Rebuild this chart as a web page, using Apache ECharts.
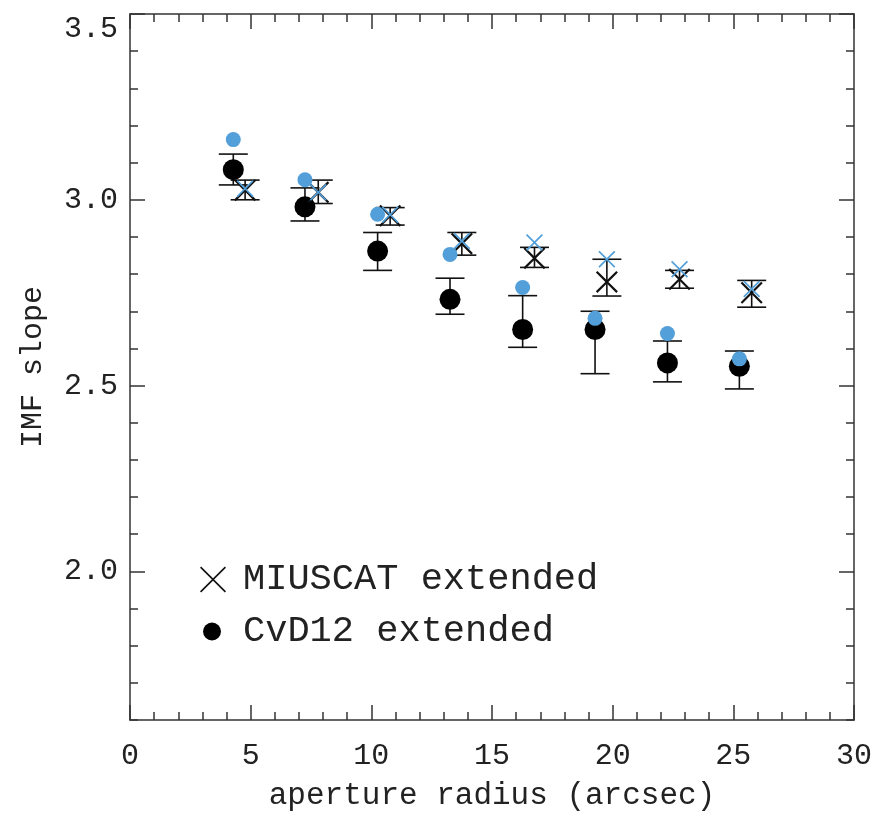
<!DOCTYPE html>
<html>
<head>
<meta charset="utf-8">
<script src="https://cdn.jsdelivr.net/npm/echarts@6/dist/echarts.min.js"></script>
<style>
html,body{margin:0;padding:0;background:#fff;}
#chart{width:876px;height:818px;}
</style>
</head>
<body>
<div id="chart"></div>
<script>
// ---- data ----
const xCvd = [4.28, 7.25, 10.26, 13.26, 16.27, 19.27, 22.27, 25.25];
const yCvd = [3.081, 2.981, 2.862, 2.732, 2.651, 2.651, 2.561, 2.552];
const cvdLow = [3.040, 2.943, 2.810, 2.692, 2.603, 2.532, 2.510, 2.491];
const cvdHigh = [3.123, 3.032, 2.912, 2.789, 2.742, 2.700, 2.620, 2.593];
const yCvdBlue = [3.162, 3.054, 2.961, 2.853, 2.764, 2.681, 2.640, 2.572];

const xMiuscat = [4.77, 7.80, 10.78, 13.75, 16.76, 19.76, 22.77, 25.76];
const yMiuscat = [3.026, 3.020, 2.957, 2.882, 2.843, 2.779, 2.786, 2.750];
const miuscatLow = [3.000, 2.990, 2.932, 2.851, 2.818, 2.741, 2.762, 2.711];
const miuscatHigh = [3.053, 3.053, 2.979, 2.912, 2.872, 2.840, 2.810, 2.783];
const yMiuscatBlue = [3.030, 3.020, 2.960, 2.889, 2.885, 2.840, 2.813, 2.760];

const yMajorTicks = [2.0, 2.5, 3.0, 3.5];
const seriesNames = ['MIUSCAT extended', 'CvD12 extended'];
const xTitle = 'aperture radius (arcsec)';
const yTitle = 'IMF slope';

// ---- styling ----
const FONT = '"Liberation Mono", "DejaVu Sans Mono", monospace';
const AX = '#333';
const BLUE = '#529fd9';
const X_PATH = 'path://M0,0.7 L0.7,0 L5,4.3 L9.3,0 L10,0.7 L5.7,5 L10,9.3 L9.3,10 L5,5.7 L0.7,10 L0,9.3 L4.3,5 Z';
const X_PATH_THIN = 'path://M0,0.45 L0.45,0 L5,4.55 L9.55,0 L10,0.45 L5.45,5 L10,9.55 L9.55,10 L5,5.45 L0.45,10 L0,9.55 L4.55,5 Z';

const zip = (a, b) => a.map((v, i) => [v, b[i]]);
const zip3 = (a, b, c) => a.map((v, i) => [v, b[i], c[i]]);

function errRender(params, api) {
  const x = api.value(0), lo = api.value(1), hi = api.value(2);
  const pLo = api.coord([x, lo]);
  const pHi = api.coord([x, hi]);
  const w = 14.5;
  const st = {stroke: '#111', lineWidth: 1.6};
  return {
    type: 'group',
    children: [
      {type: 'line', shape: {x1: pLo[0], y1: pLo[1], x2: pHi[0], y2: pHi[1]}, style: st},
      {type: 'line', shape: {x1: pLo[0] - w, y1: pLo[1], x2: pLo[0] + w, y2: pLo[1]}, style: st},
      {type: 'line', shape: {x1: pHi[0] - w, y1: pHi[1], x2: pHi[0] + w, y2: pHi[1]}, style: st}
    ]
  };
}

const tickLine = {color: AX, width: 1.5};
const GRID = {left: 130, right: 22, top: 14, bottom: 98, containLabel: false};

function xAx(pos, withLabel) {
  return {
    gridIndex: 0, type: 'value', min: 0, max: 30, interval: 5, position: pos,
    axisLine: {show: true, onZero: false, lineStyle: {color: AX, width: 1.5}},
    axisTick: {show: true, inside: true, length: 15, lineStyle: tickLine},
    minorTick: {show: true, splitNumber: 5, length: 8, lineStyle: tickLine},
    splitLine: {show: false}, minorSplitLine: {show: false},
    axisLabel: {show: withLabel, fontFamily: FONT, fontSize: 30, color: '#222', margin: 21},
    name: withLabel ? xTitle : '', nameLocation: 'middle', nameGap: 60,
    nameTextStyle: {fontFamily: FONT, fontSize: 31, color: '#222'}
  };
}
function yMinor(pos, withLabel) {
  return {
    gridIndex: 0, type: 'value', min: 1.6, max: 3.5, interval: 0.1, position: pos,
    axisLine: {show: true, onZero: false, lineStyle: {color: AX, width: 1.5}},
    axisTick: {show: true, inside: true, length: 8, lineStyle: tickLine},
    splitLine: {show: false},
    axisLabel: {
      show: withLabel, fontFamily: FONT, fontSize: 30, color: '#222', margin: 12,
      verticalAlignMaxLabel: 'top',
      formatter: function (v) {
        const r = Math.round(v * 10);
        return (r % 5 === 0) ? (r / 10).toFixed(1) : '';
      }
    },
    name: withLabel ? yTitle : '', nameLocation: 'middle', nameGap: 82, nameRotate: 90,
    nameTextStyle: {fontFamily: FONT, fontSize: 30, color: '#222'}
  };
}
function yMajor(pos) {
  return {
    gridIndex: 1, type: 'value', min: 1.6, max: 3.5, interval: 0.1, position: pos,
    axisLine: {show: false},
    axisTick: {show: true, inside: true, length: 15, customValues: yMajorTicks, lineStyle: tickLine},
    splitLine: {show: false},
    axisLabel: {show: false}
  };
}

const chart = echarts.init(document.getElementById('chart'), null, {renderer: 'canvas'});
chart.setOption({
  backgroundColor: '#fff',
  animation: false,
  grid: [GRID, Object.assign({}, GRID)],
  xAxis: [xAx('bottom', true), xAx('top', false),
          {gridIndex: 1, type: 'value', min: 0, max: 30, show: false}],
  yAxis: [yMinor('left', true), yMinor('right', false), yMajor('left'), yMajor('right')],
  legend: [
    {
      orient: 'vertical', left: 195, top: 556, itemWidth: 26, itemHeight: 28,
      data: [{name: seriesNames[0], icon: X_PATH_THIN}],
      textStyle: {fontFamily: FONT, fontSize: 37, color: '#222', padding: [0, 0, 0, 12]},
      selectedMode: false
    },
    {
      orient: 'vertical', left: 198, top: 608, itemWidth: 18, itemHeight: 18,
      data: [{name: seriesNames[1], icon: 'circle'}],
      textStyle: {fontFamily: FONT, fontSize: 37, color: '#222', padding: [0, 0, 0, 17]},
      selectedMode: false
    }
  ],
  series: [
    {type: 'custom', name: 'cvdErr', renderItem: errRender, data: zip3(xCvd, cvdLow, cvdHigh), z: 2, silent: true},
    {type: 'custom', name: 'miuErr', renderItem: errRender, data: zip3(xMiuscat, miuscatLow, miuscatHigh), z: 2, silent: true},
    {type: 'scatter', name: seriesNames[1], data: zip(xCvd, yCvd), symbol: 'circle', symbolSize: 21,
     itemStyle: {color: '#000', opacity: 1}, z: 3},
    {type: 'scatter', name: seriesNames[0], data: zip(xMiuscat, yMiuscat), symbol: X_PATH, symbolSize: 22,
     itemStyle: {color: '#111', opacity: 1}, z: 3},
    {type: 'scatter', name: 'cvdBlue', data: zip(xCvd, yCvdBlue), symbol: 'circle', symbolSize: 15,
     itemStyle: {color: BLUE, opacity: 1}, z: 4},
    {type: 'scatter', name: 'miuBlue', data: zip(xMiuscat, yMiuscatBlue), symbol: X_PATH, symbolSize: 17,
     itemStyle: {color: BLUE, opacity: 1}, z: 4}
  ]
});
</script>
</body>
</html>
